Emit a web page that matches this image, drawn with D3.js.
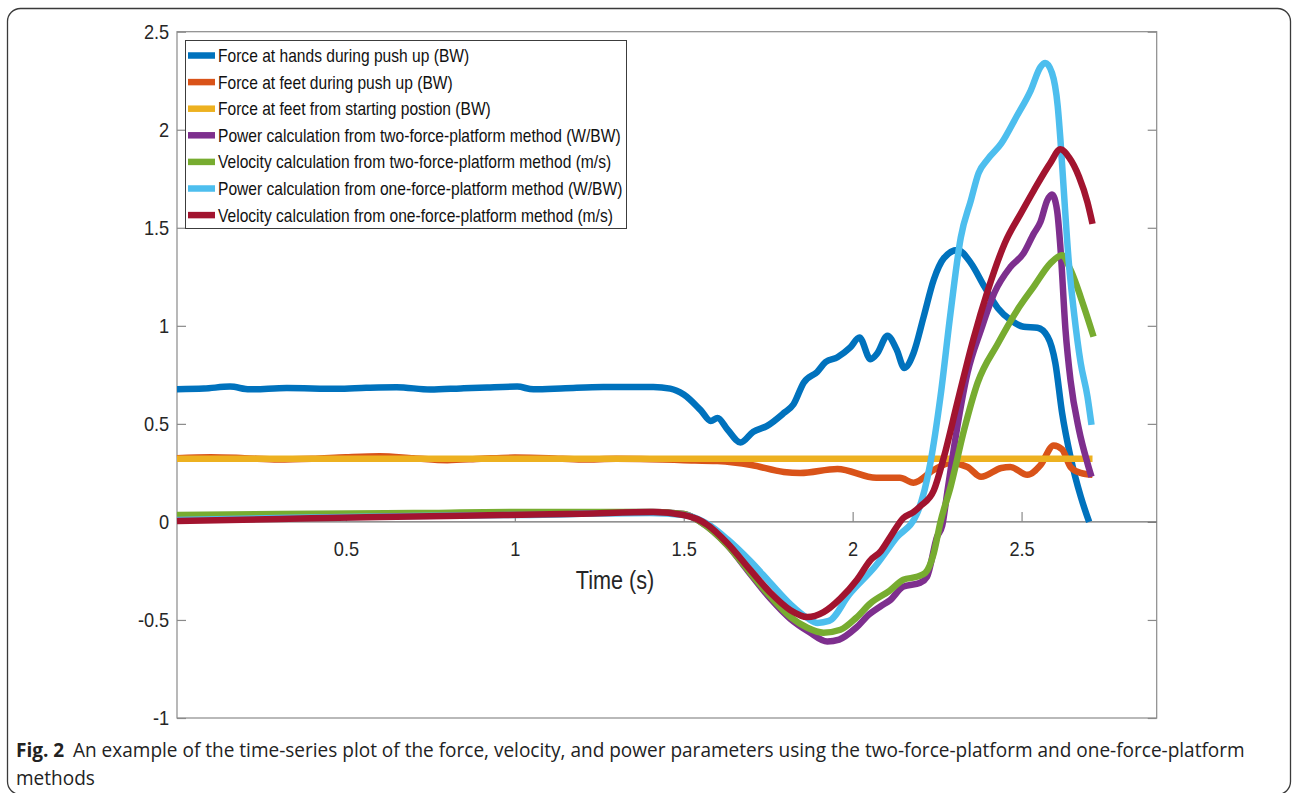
<!DOCTYPE html>
<html><head><meta charset="utf-8">
<script src="https://cdn.jsdelivr.net/npm/d3@7"></script>
<style>body{margin:0;background:#fff} svg{display:block}</style>
</head><body>
<svg id="c" width="1292" height="793"></svg>
<script>
// ---------- data ----------
const xTicks = [0.5, 1, 1.5, 2, 2.5];
const yTicks = [-1, -0.5, 0, 0.5, 1, 1.5, 2, 2.5];
const seriesNames = [
  "Force at hands during push up (BW)",
  "Force at feet during push up (BW)",
  "Force at feet from starting postion (BW)",
  "Power calculation from two-force-platform method (W/BW)",
  "Velocity calculation from two-force-platform method (m/s)",
  "Power calculation from one-force-platform method (W/BW)",
  "Velocity calculation from one-force-platform method (m/s)"
];
const seriesColors = ["#0072BD", "#D95319", "#EDB120", "#7E2F8E", "#77AC30", "#4DBEEE", "#A2142F"];

const handsT = [0, 0.08, 0.157, 0.215, 0.325, 0.474, 0.56, 0.65, 0.75, 0.84, 0.918, 1.007, 1.055, 1.15, 1.262, 1.41, 1.46, 1.5, 1.55, 1.58, 1.6, 1.63, 1.668, 1.706, 1.747, 1.796, 1.825, 1.855, 1.895, 1.92, 1.955, 1.993, 2.02, 2.053, 2.073, 2.103, 2.13, 2.153, 2.18, 2.21, 2.24, 2.27, 2.31, 2.35, 2.39, 2.43, 2.467, 2.506, 2.547, 2.577, 2.6, 2.62, 2.645, 2.675, 2.70];
const handsV = [0.677, 0.68, 0.69, 0.676, 0.683, 0.679, 0.684, 0.687, 0.675, 0.681, 0.686, 0.69, 0.676, 0.682, 0.688, 0.688, 0.68, 0.65, 0.57, 0.515, 0.53, 0.47, 0.405, 0.46, 0.49, 0.555, 0.60, 0.71, 0.765, 0.815, 0.84, 0.89, 0.94, 0.83, 0.86, 0.95, 0.88, 0.785, 0.86, 1.045, 1.235, 1.345, 1.387, 1.32, 1.2, 1.09, 1.03, 0.995, 0.99, 0.945, 0.81, 0.555, 0.33, 0.13, 0.0];

const feetT = [0, 0.1, 0.2, 0.3, 0.4, 0.5, 0.6, 0.7, 0.8, 0.9, 1.0, 1.1, 1.2, 1.3, 1.4, 1.5, 1.6, 1.7, 1.796, 1.845, 1.955, 2.07, 2.14, 2.18, 2.24, 2.29, 2.34, 2.38, 2.44, 2.467, 2.517, 2.556, 2.595, 2.62, 2.645, 2.675, 2.71];
const feetV = [0.325, 0.33, 0.325, 0.318, 0.322, 0.33, 0.335, 0.325, 0.315, 0.322, 0.328, 0.325, 0.318, 0.322, 0.32, 0.315, 0.31, 0.29, 0.255, 0.25, 0.27, 0.225, 0.225, 0.2, 0.265, 0.30, 0.28, 0.23, 0.275, 0.28, 0.24, 0.29, 0.39, 0.37, 0.28, 0.25, 0.24];

const startT = [0, 2.71];
const startV = [0.322, 0.322];

const power2T = [0, 0.3, 0.7, 1.0, 1.4, 1.5, 1.55, 1.63, 1.697, 1.756, 1.816, 1.87, 1.925, 1.96, 2.01, 2.05, 2.083, 2.11, 2.15, 2.2, 2.22, 2.25, 2.265, 2.28, 2.30, 2.34, 2.38, 2.42, 2.467, 2.506, 2.536, 2.556, 2.576, 2.59, 2.605, 2.615, 2.63, 2.645, 2.67, 2.695, 2.707];
const power2V = [0.03, 0.035, 0.04, 0.045, 0.05, 0.04, 0.0, -0.12, -0.265, -0.39, -0.495, -0.56, -0.61, -0.60, -0.54, -0.47, -0.43, -0.40, -0.33, -0.31, -0.28, -0.075, -0.02, 0.15, 0.38, 0.76, 0.98, 1.17, 1.30, 1.37, 1.47, 1.53, 1.64, 1.67, 1.59, 1.40, 0.98, 0.72, 0.47, 0.30, 0.23];

const vel2T = [0, 0.3, 0.7, 1.0, 1.4, 1.5, 1.55, 1.63, 1.697, 1.756, 1.816, 1.866, 1.914, 1.964, 2.01, 2.053, 2.11, 2.15, 2.19, 2.215, 2.24, 2.26, 2.29, 2.33, 2.37, 2.43, 2.487, 2.536, 2.586, 2.62, 2.645, 2.684, 2.713];
const vel2V = [0.035, 0.04, 0.045, 0.05, 0.05, 0.04, 0.0, -0.12, -0.26, -0.38, -0.485, -0.54, -0.565, -0.55, -0.49, -0.415, -0.35, -0.295, -0.28, -0.26, -0.16, 0.0, 0.18, 0.47, 0.71, 0.91, 1.08, 1.2, 1.32, 1.36, 1.285, 1.1, 0.945];

const power1T = [0, 0.3, 0.7, 1.0, 1.4, 1.5, 1.57, 1.63, 1.697, 1.756, 1.816, 1.866, 1.896, 1.93, 1.99, 2.07, 2.13, 2.19, 2.23, 2.26, 2.29, 2.32, 2.35, 2.373, 2.4, 2.44, 2.486, 2.527, 2.556, 2.57, 2.59, 2.607, 2.615, 2.625, 2.64, 2.655, 2.675, 2.695, 2.707];
const power1V = [0.01, 0.02, 0.03, 0.035, 0.045, 0.035, -0.01, -0.09, -0.2, -0.31, -0.42, -0.49, -0.515, -0.505, -0.37, -0.22, -0.08, 0.04, 0.3, 0.64, 1.07, 1.45, 1.64, 1.78, 1.85, 1.93, 2.07, 2.2, 2.32, 2.34, 2.29, 2.12, 1.95, 1.69, 1.32, 1.07, 0.81, 0.64, 0.495];

const vel1T = [0, 0.3, 0.6, 0.966, 1.2, 1.41, 1.5, 1.57, 1.63, 1.697, 1.756, 1.816, 1.866, 1.914, 1.964, 2.013, 2.053, 2.083, 2.112, 2.15, 2.18, 2.2, 2.24, 2.27, 2.31, 2.357, 2.4, 2.45, 2.5, 2.536, 2.585, 2.615, 2.64, 2.67, 2.695, 2.71];
const vel1V = [0.005, 0.015, 0.025, 0.035, 0.042, 0.05, 0.035, -0.015, -0.11, -0.245, -0.36, -0.45, -0.485, -0.46, -0.39, -0.295, -0.195, -0.15, -0.075, 0.02, 0.05, 0.08, 0.16, 0.33, 0.61, 0.93, 1.18, 1.42, 1.58, 1.69, 1.83, 1.90, 1.86, 1.76, 1.63, 1.52];

const seriesT = [handsT, feetT, startT, power2T, vel2T, power1T, vel1T];
const seriesV = [handsV, feetV, startV, power2V, vel2V, power1V, vel1V];

// ---------- drawing ----------
const svg = d3.select("#c");
const FONT = "'Liberation Sans', Arial, Helvetica, sans-serif";
const x = d3.scaleLinear().domain([0, 2.9]).range([177, 1156.7]);
const y = d3.scaleLinear().domain([-1, 2.5]).range([718, 31.7]);

// outer rounded frame
svg.append("rect").attr("x", 7.5).attr("y", 8.5).attr("width", 1283).attr("height", 786)
  .attr("rx", 13).attr("fill", "none").attr("stroke", "#3a3a3a").attr("stroke-width", 1.3);

// measure horizontal compression from the legend's longest entry
const probe = svg.append("text").attr("font-family", FONT).attr("font-size", 18)
  .text(seriesNames[5]);
const fx = 404.7 / probe.node().getComputedTextLength();
probe.remove();

// plot box
svg.append("rect").attr("x", x(0)).attr("y", y(2.5)).attr("width", x(2.9) - x(0))
  .attr("height", y(-1) - y(2.5)).attr("fill", "none").attr("stroke", "#8a8a8a").attr("stroke-width", 1.2);

function styleAxis(g) {
  g.select(".domain").remove();
  g.selectAll(".tick line").attr("stroke", "#8a8a8a").attr("stroke-width", 1.2);
  g.selectAll(".tick text").attr("fill", "#262626").attr("font-family", FONT)
    .attr("font-size", 21).attr("transform", `scale(${fx},1)`);
}

const gL = svg.append("g").attr("transform", `translate(${x(0)},0)`)
  .call(d3.axisLeft(y).tickValues(yTicks).tickSize(-9).tickPadding(9).tickFormat(d => String(d)));
styleAxis(gL);
const gR = svg.append("g").attr("transform", `translate(${x(2.9)},0)`)
  .call(d3.axisRight(y).tickValues(yTicks).tickSize(-9).tickFormat(""));
styleAxis(gR);

// x axis through origin
svg.append("line").attr("x1", x(0)).attr("x2", x(2.9)).attr("y1", y(0)).attr("y2", y(0))
  .attr("stroke", "#6e6e6e").attr("stroke-width", 1.2);
const gX = svg.append("g").attr("transform", `translate(0,${y(0)})`)
  .call(d3.axisBottom(x).tickValues(xTicks).tickSize(-10).tickPadding(19).tickFormat(d => String(d)));
styleAxis(gX);

svg.append("text").attr("font-family", FONT).attr("font-size", 25).attr("fill", "#262626")
  .attr("text-anchor", "middle")
  .attr("transform", `translate(615,589) scale(${fx},1)`).text("Time (s)");

// series lines
const line = d3.line().x(d => x(d[0])).y(d => y(d[1])).curve(d3.curveMonotoneX);
const gLines = svg.append("g");
seriesT.forEach((ts, i) => {
  const pts = ts.map((t, j) => [t, seriesV[i][j]]);
  gLines.append("path").attr("d", line(pts)).attr("fill", "none")
    .attr("stroke", seriesColors[i]).attr("stroke-width", 6.5)
    .attr("stroke-linejoin", "round").attr("stroke-linecap", "butt");
});

// legend
const lg = svg.append("g");
lg.append("rect").attr("x", 185.5).attr("y", 40.5).attr("width", 441).attr("height", 188)
  .attr("fill", "#fff").attr("stroke", "#3c3c3c").attr("stroke-width", 1);
seriesNames.forEach((name, i) => {
  const cy = 55.5 + i * 26.6;
  lg.append("line").attr("x1", 188).attr("x2", 215).attr("y1", cy).attr("y2", cy)
    .attr("stroke", seriesColors[i]).attr("stroke-width", 6.5);
  lg.append("text").attr("font-family", FONT).attr("font-size", 18).attr("fill", "#111")
    .attr("transform", `translate(218,${cy + 6.5}) scale(${fx},1)`).text(name);
});

// caption
const CAP = "'Open Sans', 'Noto Sans', sans-serif";
const cap = svg.append("text").attr("font-family", CAP).attr("font-size", 19.5).attr("fill", "#222");
cap.append("tspan").attr("font-weight", "bold").text("Fig. 2");
cap.append("tspan").attr("dx", 9).text("An example of the time-series plot of the force, velocity, and power parameters using the two-force-platform and one-force-platform");
const cw = cap.node().getComputedTextLength();
const cf = (1237 - 16) / cw;
cap.attr("transform", `translate(16,757) scale(${cf},1)`);
svg.append("text").attr("font-family", CAP).attr("font-size", 19.5).attr("fill", "#222")
  .attr("transform", `translate(16,785) scale(${cf},1)`).text("methods");
</script>
</body></html>
